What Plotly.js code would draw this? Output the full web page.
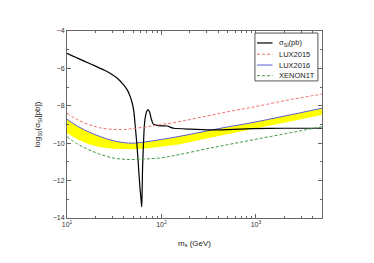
<!DOCTYPE html>
<html>
<head>
<meta charset="utf-8">
<script src="https://cdn.plot.ly/plotly-3.0.1.min.js"></script>
<style>html,body{margin:0;padding:0;background:#fff;}#chart{width:374px;height:263px;}</style>
</head>
<body>
<div id="chart"></div>
<script>
// sigma_SI (pb) black curve
const sigmaMass = [10,12,15,20,25,30,35,40,44,47,49,51,53,55,57,59,61,61.8,62.3,63,64.5,66,68,70,72,75,78,82,90,100,115,125,135,200,326,500,908,2000,5000];
const sigmaVal  = [-5.19,-5.38,-5.6,-5.88,-6.1,-6.33,-6.58,-6.9,-7.2,-7.55,-7.85,-8.3,-9.2,-10.1,-11.2,-12.3,-13.1,-13.4,-12.8,-11.4,-10.0,-9.0,-8.5,-8.28,-8.2,-8.35,-8.7,-8.98,-9.05,-9.07,-9.08,-9.15,-9.2,-9.25,-9.29,-9.27,-9.22,-9.2,-9.2];

const limMass = [10,13,17,22,30,40,50,70,100,157,300,500,908,2000,5000];
const lux2015 = [-8.40,-8.75,-9.0,-9.17,-9.26,-9.27,-9.22,-9.12,-9.0,-8.84,-8.55,-8.32,-8.08,-7.73,-7.37];
const lux2016 = [-8.72,-9.1,-9.4,-9.63,-9.85,-9.97,-10.0,-9.92,-9.8,-9.63,-9.35,-9.13,-8.9,-8.55,-8.13];
const bandLow = [-9.47,-9.8,-10.05,-10.2,-10.3,-10.33,-10.33,-10.28,-10.18,-10.05,-9.75,-9.52,-9.25,-8.88,-8.49];
const xenon1t = [-9.65,-10.05,-10.35,-10.58,-10.78,-10.86,-10.87,-10.84,-10.78,-10.6,-10.3,-10.08,-9.83,-9.5,-9.12];

const xMajor = [10,100,1000];
const xMajorText = ['10<sup>1</sup>','10<sup>2</sup>','10<sup>3</sup>'];
const xMinor = [20,30,40,50,60,70,80,90,200,300,400,500,600,700,800,900,2000,3000,4000];
const yMajor = [-4,-6,-8,-10,-12,-14];
const yMinor = [-5,-7,-9,-11,-13];

const legendNames = ['σ<sub>SI</sub>(pb)','LUX2015','LUX2016','XENON1T'];
const legendColors = ['#000000','#f07070','#5a5ad6','#3c9a3c'];
const legendDash = ['solid','3px,2px','solid','3px,2px'];
const legendWidth = [1.2,1,1,1];

const traces = [
  {x: limMass, y: bandLow, mode:'lines', line:{color:'rgba(0,0,0,0)', width:0}, showlegend:false, hoverinfo:'skip'},
  {x: limMass, y: lux2016, mode:'lines', fill:'tonexty', fillcolor:'#ffff00', line:{color:legendColors[2], width:1, shape:'spline'}, name:legendNames[2]},
  {x: sigmaMass, y: sigmaVal, mode:'lines', line:{color:legendColors[0], width:1.2, shape:'spline', smoothing:0.6}, name:legendNames[0]},
  {x: limMass, y: lux2015, mode:'lines', line:{color:legendColors[1], width:1, dash:legendDash[1], shape:'spline'}, name:legendNames[1]},
  {x: limMass, y: xenon1t, mode:'lines', line:{color:legendColors[3], width:1, dash:legendDash[3], shape:'spline'}, name:legendNames[3]}
];

// hand-built legend box (paper coords)
const shapes = [{type:'rect', xref:'paper', yref:'paper', x0:0.737, x1:0.984, y0:0.733, y1:0.989,
                 line:{color:'#555', width:1}, fillcolor:'#fff', layer:'above'}];
const annotations = [];
const rowY = [0.936, 0.876, 0.818, 0.761];
for (let i = 0; i < legendNames.length; i++) {
  shapes.push({type:'line', xref:'paper', yref:'paper', x0:0.745, x1:0.806, y0:rowY[i], y1:rowY[i],
               line:{color:legendColors[i], width:legendWidth[i], dash:legendDash[i]}, layer:'above'});
  annotations.push({xref:'paper', yref:'paper', x:0.822, y:rowY[i], xanchor:'left', yanchor:'middle',
                    text:legendNames[i], showarrow:false,
                    font:{family:'Liberation Sans, Arial', size:7.5, color:'#222'}});
}

const axisCommon = {
  showline:true, linecolor:'#666', linewidth:1, mirror:'ticks', ticks:'inside', ticklen:4, tickcolor:'#666',
  showgrid:false, zeroline:false, tickfont:{family:'Liberation Sans, Arial', size:7, color:'#333'}
};

const layout = {
  width:374, height:263,
  margin:{l:67, r:52, t:31, b:45},
  paper_bgcolor:'#fff', plot_bgcolor:'#fff',
  showlegend:false,
  shapes: shapes,
  annotations: annotations,
  xaxis: Object.assign({}, axisCommon, {
    type:'log', range:[1, Math.log10(5000)], tickmode:'array', tickvals:xMajor, ticktext:xMajorText,
    minor:{tickvals:xMinor, ticks:'inside', ticklen:2, tickcolor:'#666'},
    title:{text:'m<sub>s</sub> (GeV)', font:{family:'Liberation Sans, Arial', size:8, color:'#222'}, standoff:12}
  }),
  yaxis: Object.assign({}, axisCommon, {
    range:[-14,-4], tickmode:'array', tickvals:yMajor,
    minor:{tickvals:yMinor, ticks:'inside', ticklen:2, tickcolor:'#666'},
    title:{text:'log<sub>10</sub>(σ<sub>SI</sub>[pb])', font:{family:'Liberation Sans, Arial', size:8, color:'#222'}, standoff:10}
  })
};

Plotly.newPlot('chart', traces, layout, {staticPlot:true, displayModeBar:false});
</script>
</body>
</html>
